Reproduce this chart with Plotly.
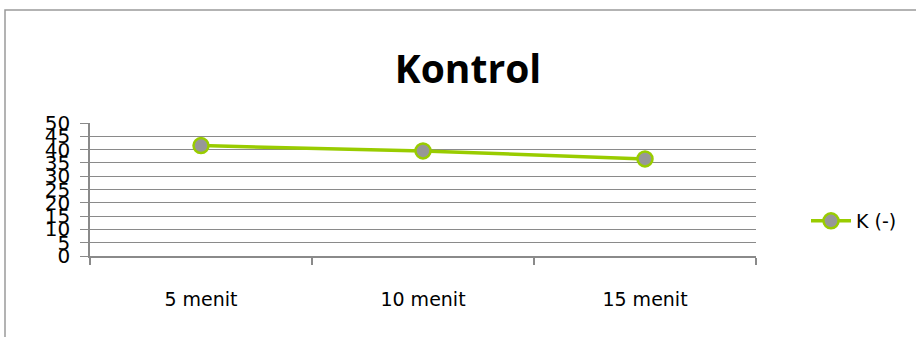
import plotly.graph_objects as go

# Data
categories = ["5 menit", "10 menit", "15 menit"]
values_k_neg = [41.5, 39.5, 36.5]
y_ticks = [0, 5, 10, 15, 20, 25, 30, 35, 40, 45, 50]

W, H = 916, 337
L, R, T, B = 90, 160, 123, 81
pw, ph = W - L - R, H - T - B


def px_x(x):
    return (x - L) / pw


def px_y(y):
    return (H - B - y) / ph


fig = go.Figure()
fig.add_trace(go.Scatter(
    x=categories,
    y=values_k_neg,
    mode="lines+markers",
    name="K (-)",
    line=dict(color="#99cc00", width=3.5),
    marker=dict(size=15, color="#979797", line=dict(color="#99cc00", width=2.5)),
))

fig.update_layout(
    width=W, height=H,
    margin=dict(l=L, r=R, t=T, b=B),
    paper_bgcolor="white",
    plot_bgcolor="white",
    showlegend=True,
    title=dict(
        text="<b>Kontrol</b>",
        font=dict(family="Open Sans", size=39, color="black"),
        x=468 / W, xref="container", xanchor="center",
        y=1 - 69 / H, yref="container", yanchor="middle",
    ),
    legend=dict(
        x=px_x(806), y=px_y(221), xref="paper", yref="paper",
        xanchor="left", yanchor="middle",
        font=dict(family="DejaVu Sans", size=19, color="black"),
        bgcolor="rgba(0,0,0,0)",
        itemwidth=40,
    ),
    xaxis=dict(
        type="category",
        range=[-0.5, 2.5],
        tickson="boundaries",
        ticks="outside", ticklen=7, tickcolor="#8a8a8a", tickwidth=1.5,
        showline=True, linecolor="#8a8a8a", linewidth=1.5,
        showgrid=False,
        tickfont=dict(family="DejaVu Sans", size=19, color="black"),
        ticklabelstandoff=25,
        zeroline=False,
        fixedrange=True,
    ),
    yaxis=dict(
        range=[0, 50],
        tickvals=y_ticks,
        ticktext=[str(v) for v in y_ticks],
        ticks="outside", ticklen=8, tickcolor="#8a8a8a", tickwidth=1,
        showline=True, linecolor="#8a8a8a", linewidth=1.5,
        showgrid=True, gridcolor="#8a8a8a", gridwidth=1,
        tickfont=dict(family="DejaVu Sans", size=20, color="black"),
        ticklabelstandoff=6,
        zeroline=False,
        fixedrange=True,
    ),
    shapes=[dict(
        type="rect", xref="paper", yref="paper",
        x0=px_x(5), x1=px_x(940), y0=px_y(360), y1=px_y(10),
        line=dict(color="#9a9a9a", width=1.5),
        fillcolor="rgba(0,0,0,0)", layer="below",
    )],
)

fig.write_html("out.html")
